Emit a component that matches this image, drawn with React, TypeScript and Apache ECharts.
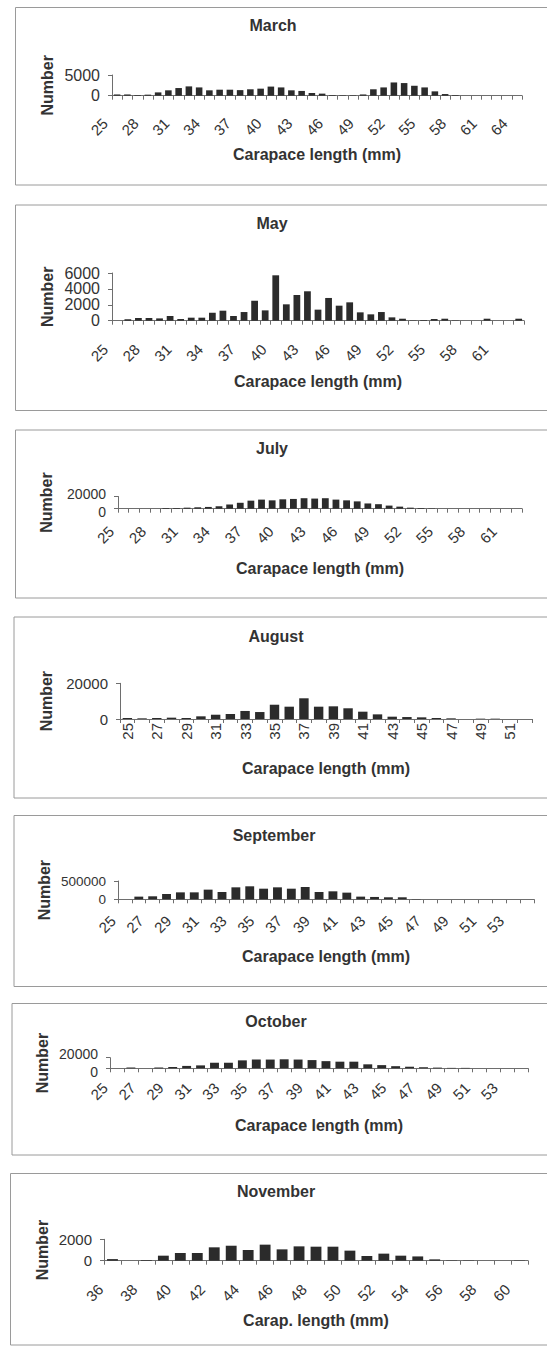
import React, { useEffect, useRef } from "react";
import * as echarts from "echarts";

// ---------------- DATA ----------------
const marchCategories = ["25","26","27","28","29","30","31","32","33","34","35","36","37","38","39","40","41","42","43","44","45","46","47","48","49","50","51","52","53","54","55","56","57","58","59","60","61","62","63","64"];
const marchValues = [300,300,150,250,800,1300,1850,2250,2000,1300,1450,1450,1350,1550,1700,2200,2000,1300,1150,650,500,150,100,100,300,1550,2000,3200,3050,2400,2000,1050,400,150,0,0,0,0,0,0];

const mayCategories = ["25","26","27","28","29","30","31","32","33","34","35","36","37","38","39","40","41","42","43","44","45","46","47","48","49","50","51","52","53","54","55","56","57","58","59","60","61","62","63"];
const mayValues = [0,170,340,340,290,590,210,380,380,1000,1260,590,1090,2520,1300,5710,2060,3230,3700,1390,2860,1890,2310,1050,800,1090,420,250,40,80,210,250,40,0,0,250,0,0,250];

const julyCategories = ["25","26","27","28","29","30","31","32","33","34","35","36","37","38","39","40","41","42","43","44","45","46","47","48","49","50","51","52","53","54","55","56","57","58","59","60","61","62"];
const julyValues = [0,0,0,0,1100,1100,1700,2300,2900,4000,6900,9700,13200,14900,13700,15400,16000,17200,16600,17200,14900,13700,12000,8600,7400,5100,3400,1700,1100,600,0,0,0,0,0,0,0,0];

const augustCategories = ["25","26","27","28","29","30","31","32","33","34","35","36","37","38","39","40","41","42","43","44","45","46","47","48","49","50","51","52"];
const augustValues = [560,370,560,750,560,1500,2400,2800,4500,3900,8000,6900,11600,6900,7100,6000,4100,2600,1300,1100,930,560,370,0,190,190,0,0];

const septemberCategories = ["25","26","27","28","29","30","31","32","33","34","35","36","37","38","39","40","41","42","43","44","45","46","47","48","49","50","51","52","53","54"];
const septemberValues = [0,73000,82000,145000,190000,190000,264000,200000,327000,355000,290000,327000,290000,336000,200000,218000,182000,73000,64000,55000,55000,9000,0,0,0,0,0,0,0,0];

const octoberCategories = ["25","26","27","28","29","30","31","32","33","34","35","36","37","38","39","40","41","42","43","44","45","46","47","48","49","50","51","52","53","54"];
const octoberValues = [0,1500,0,1500,2500,4500,5500,10500,10500,15000,16500,16500,17000,16500,15500,13500,12500,12500,7500,6000,4000,3000,2000,1300,800,800,0,0,0,0];

const novemberCategories = ["36","37","38","39","40","41","42","43","44","45","46","47","48","49","50","51","52","53","54","55","56","57","58","59","60"];
const novemberValues = [150,0,60,470,720,720,1250,1400,1000,1500,1060,1340,1310,1310,940,440,660,470,400,125,30,30,0,0,30];

const monthTitles = ["March", "May", "July", "August", "September", "October", "November"];
const yTickValues = [
  [0, 5000],
  [0, 2000, 4000, 6000],
  [0, 20000],
  [0, 20000],
  [0, 500000],
  [0, 20000],
  [0, 2000],
];
const xAxisNames = ["Carapace length (mm)","Carapace length (mm)","Carapace length (mm)","Carapace length (mm)","Carapace length (mm)","Carapace length (mm)","Carap. length (mm)"];
const yAxisName = "Number";
const labelSteps = [3, 3, 3, 2, 2, 2, 2];

const categoryLists = [marchCategories, mayCategories, julyCategories, augustCategories, septemberCategories, octoberCategories, novemberCategories];
const valueLists = [marchValues, mayValues, julyValues, augustValues, septemberValues, octoberValues, novemberValues];

// ---------------- LAYOUT ----------------
type Layout = {
  box: [number, number, number]; // left, top, bottom
  title: [number, number];
  grid: { left: number; top: number; width: number; height: number };
  yNameGap: number;
  xNameGap: number;
  xLabelMargin: number;
  rotate: number;
  yFont: number;
  ySpread: number; // half-shift applied to the two crowded y labels
};

const layouts: Layout[] = [
  { box: [15.5, 7.5, 185], title: [273, 25], grid: { left: 112, top: 75, width: 410, height: 20.7 }, yNameGap: 57, xNameGap: 51, xLabelMargin: 13, rotate: 45, yFont: 16, ySpread: 0 },
  { box: [15.5, 205, 410.5], title: [272, 223], grid: { left: 112, top: 273, width: 412, height: 47.7 }, yNameGap: 57, xNameGap: 53, xLabelMargin: 14, rotate: 45, yFont: 16, ySpread: 0 },
  { box: [15.5, 430, 598], title: [272, 448], grid: { left: 118, top: 496.5, width: 404, height: 12.2 }, yNameGap: 64, xNameGap: 51.6, xLabelMargin: 8, rotate: 45, yFont: 14, ySpread: 3 },
  { box: [14, 617, 798], title: [276, 636], grid: { left: 120, top: 683.3, width: 412, height: 35.7 }, yNameGap: 66, xNameGap: 41, xLabelMargin: 4, rotate: 90, yFont: 15, ySpread: 0 },
  { box: [14, 815.5, 986.5], title: [274, 835], grid: { left: 118, top: 881, width: 416, height: 18.3 }, yNameGap: 66, xNameGap: 49.4, xLabelMargin: 7, rotate: 45, yFont: 13.5, ySpread: 0 },
  { box: [12, 1003.5, 1155], title: [276, 1021], grid: { left: 110, top: 1057.7, width: 418, height: 10.6 }, yNameGap: 60, xNameGap: 48.7, xLabelMargin: 5, rotate: 45, yFont: 14, ySpread: 4 },
  { box: [10.5, 1173.5, 1345], title: [276, 1191.7], grid: { left: 104, top: 1239.3, width: 424, height: 21.4 }, yNameGap: 54, xNameGap: 51.3, xLabelMargin: 14, rotate: 45, yFont: 15, ySpread: 0 },
];

const FONT = '"Liberation Sans", Arial, Helvetica, sans-serif';
const TEXT = "#333333";
const AXIS = "#6e6e6e";
const BAR = "#2b2b2b";
const BOX = "#9a9a9a";

function buildOption() {
  const grid: any[] = [];
  const xAxis: any[] = [];
  const yAxis: any[] = [];
  const series: any[] = [];
  const graphic: any[] = [];

  layouts.forEach((L, i) => {
    const ticks = yTickValues[i];
    const yMax = ticks[ticks.length - 1];
    const yStep = ticks[1] - ticks[0];

    graphic.push({
      type: "rect",
      silent: true,
      shape: { x: L.box[0], y: L.box[1], width: 620 - L.box[0], height: L.box[2] - L.box[1] },
      style: { fill: "none", stroke: BOX, lineWidth: 1 },
    });
    graphic.push({
      type: "text",
      silent: true,
      x: L.title[0],
      y: L.title[1],
      style: {
        text: monthTitles[i],
        fill: TEXT,
        fontSize: 16,
        fontWeight: "bold",
        fontFamily: FONT,
        align: "center",
        verticalAlign: "middle",
      },
    });

    grid.push({ ...L.grid, containLabel: false, outerBoundsMode: "none" });

    const is90 = L.rotate === 90;
    xAxis.push({
      type: "category",
      gridIndex: i,
      data: categoryLists[i],
      boundaryGap: true,
      name: xAxisNames[i],
      nameLocation: "middle",
      nameGap: L.xNameGap,
      nameMoveOverlap: false,
      nameTextStyle: { fontSize: 16, fontWeight: "bold", color: TEXT, fontFamily: FONT },
      axisLine: { show: true, onZero: false, lineStyle: { color: AXIS, width: 1 } },
      axisTick: { show: true, interval: 0, length: 4, inside: false, alignWithLabel: false, lineStyle: { color: AXIS } },
      axisLabel: {
        show: true,
        interval: labelSteps[i] - 1,
        rotate: L.rotate,
        margin: L.xLabelMargin,
        padding: is90 ? 0 : [0, 17, 0, 0],
        fontSize: 15,
        color: TEXT,
        fontFamily: FONT,
        hideOverlap: false,
      },
      splitLine: { show: false },
    });

    const labelStyle: any = {
      fontSize: L.yFont,
      color: TEXT,
      fontFamily: FONT,
      margin: 12,
      hideOverlap: false,
      formatter: (v: number) => String(v),
    };
    const crowded = L.ySpread > 0;

    // main value axis: line, ticks, name, labels above zero
    yAxis.push({
      type: "value",
      gridIndex: i,
      min: 0,
      max: yMax,
      interval: yStep,
      name: yAxisName,
      nameLocation: "middle",
      nameGap: L.yNameGap,
      nameRotate: 90,
      nameMoveOverlap: false,
      nameTextStyle: { fontSize: 16, fontWeight: "bold", color: TEXT, fontFamily: FONT },
      axisLine: { show: true, lineStyle: { color: AXIS, width: 1 } },
      axisTick: { show: true, length: 4, inside: false, lineStyle: { color: AXIS } },
      axisLabel: crowded
        ? { ...labelStyle, verticalAlign: "bottom", lineHeight: 2 * L.ySpread, customValues: ticks.slice(1) }
        : { ...labelStyle, customValues: ticks.slice(1) },
      splitLine: { show: false },
    });
    // companion value axis on the same grid: only the zero label
    yAxis.push({
      type: "value",
      gridIndex: i,
      position: "left",
      min: 0,
      max: yMax,
      interval: yStep,
      axisLine: { show: false },
      axisTick: { show: false },
      axisLabel: crowded
        ? { ...labelStyle, verticalAlign: "top", lineHeight: 2 * L.ySpread, customValues: ticks.slice(0, 1) }
        : { ...labelStyle, customValues: ticks.slice(0, 1) },
      splitLine: { show: false },
    });

    series.push({
      type: "bar",
      name: monthTitles[i],
      xAxisIndex: i,
      yAxisIndex: 2 * i,
      data: valueLists[i],
      barCategoryGap: "36%",
      itemStyle: { color: BAR },
      silent: true,
    });
  });

  return {
    animation: false,
    backgroundColor: "#ffffff",
    textStyle: { fontFamily: FONT },
    grid,
    xAxis,
    yAxis,
    series,
    graphic,
  };
}

export default function App() {
  const ref = useRef<HTMLDivElement>(null);
  useEffect(() => {
    if (!ref.current) return;
    const chart = echarts.init(ref.current, undefined, { renderer: "svg" });
    chart.setOption(buildOption() as any);
    return () => chart.dispose();
  }, []);
  return (
    <div
      ref={ref}
      style={{ position: "absolute", left: 0, top: 0, width: 547, height: 1351, background: "#fff" }}
    />
  );
}
